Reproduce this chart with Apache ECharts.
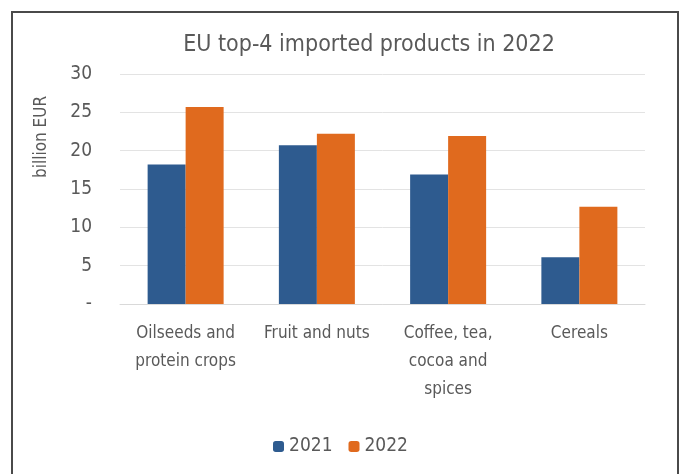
<!DOCTYPE html>
<html><head><meta charset="utf-8">
<script src="https://cdn.jsdelivr.net/npm/echarts@6/dist/echarts.min.js"></script>
<style>html,body{margin:0;padding:0;background:#fff}#c{width:681px;height:474px}
#frame{position:absolute;left:11px;top:11px;width:668px;height:470px;border:2px solid #4a4a4a;box-sizing:border-box;pointer-events:none}</style>
</head><body>
<div id="c"></div><div id="frame"></div>
<script>
const categories = ['Oilseeds and\nprotein crops', 'Fruit and nuts', 'Coffee, tea,\ncocoa and\nspices', 'Cereals'];
const values2021 = [18.2, 20.7, 16.9, 6.1];
const values2022 = [25.7, 22.2, 21.9, 12.7];
const yTicks = [0, 5, 10, 15, 20, 25, 30];
const FONT = '"DejaVu Sans Condensed", "Liberation Sans Narrow", sans-serif';
const chart = echarts.init(document.getElementById('c'));
chart.setOption({
  animation: false,
  textStyle: { fontFamily: FONT },
  title: { text: 'EU top-4 imported products in 2022', left: 364, textAlign: 'center', top: 29,
    textStyle: { fontFamily: FONT, fontSize: 23, fontWeight: 'normal', color: '#595959' } },
  legend: { bottom: 13, left: 'center', itemWidth: 11, itemHeight: 11, itemGap: 16,
    textStyle: { fontFamily: FONT, fontSize: 19, color: '#595959' },
    data: ['2021', '2022'] },
  grid: { left: 120, right: 36, top: 74, bottom: 170 },
  xAxis: { type: 'category', data: categories,
    axisLine: { lineStyle: { color: '#d9d9d9' } }, axisTick: { show: false },
    axisLabel: { interval: 0, fontFamily: FONT, fontSize: 17, color: '#595959', lineHeight: 28, margin: 16 } },
  yAxis: { type: 'value', min: 0, max: 30, interval: 5,
    name: 'billion EUR', nameLocation: 'middle', nameGap: 70, nameRotate: 90,
    nameTextStyle: { fontFamily: FONT, fontSize: 17, color: '#595959', padding: [0, 0, 0, 104] },
    axisLine: { show: false }, axisTick: { show: false },
    splitLine: { lineStyle: { color: '#e3e3e3' } },
    axisLabel: { fontFamily: FONT, fontSize: 19, color: '#595959', margin: 28,
      formatter: v => yTicks.includes(v) ? (v === 0 ? '-' : String(v)) : '' } },
  series: [
    { name: '2021', type: 'bar', data: values2021, barWidth: 38, barGap: '0%', itemStyle: { color: '#2e5b8f' } },
    { name: '2022', type: 'bar', data: values2022, barWidth: 38, barGap: '0%', itemStyle: { color: '#e06a1e' } }
  ]
});
</script>
</body></html>
